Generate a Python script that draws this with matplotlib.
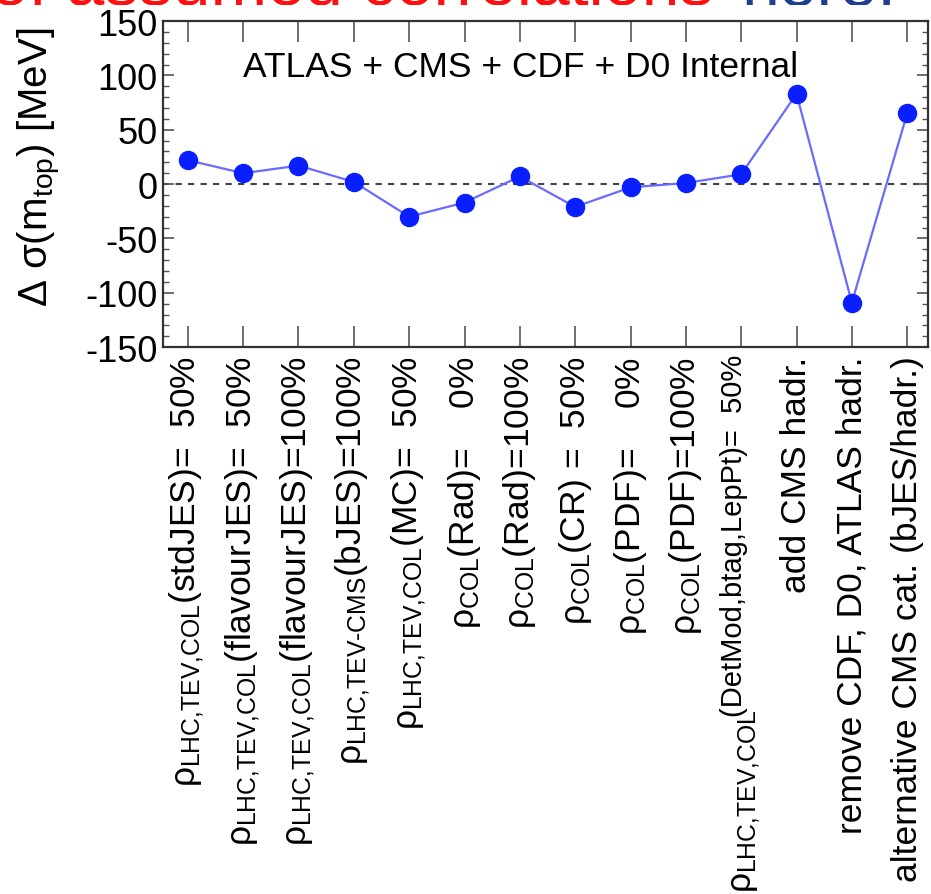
import matplotlib
matplotlib.use("Agg")
import matplotlib.pyplot as plt
import matplotlib.transforms as mtransforms
from matplotlib.ticker import MultipleLocator, FixedLocator

plt.rcParams['font.family'] = ['Liberation Sans', 'DejaVu Sans']
plt.rcParams['mathtext.fontset'] = 'custom'
plt.rcParams['mathtext.rm'] = 'Liberation Sans'
plt.rcParams['mathtext.it'] = 'Liberation Sans'
plt.rcParams['mathtext.bf'] = 'Liberation Sans:bold'
plt.rcParams['mathtext.sf'] = 'Liberation Sans'

categories = [
    r"$\rho_{\mathrm{LHC{,}TEV{,}COL}}$(stdJES)=  50%",
    r"$\rho_{\mathrm{LHC{,}TEV{,}COL}}$(flavourJES)=  50%",
    r"$\rho_{\mathrm{LHC{,}TEV{,}COL}}$(flavourJES)=100%",
    "$\\rho_{\\mathrm{LHC{,}TEV\u2010CMS}}$(bJES)=100%",
    r"$\rho_{\mathrm{LHC{,}TEV{,}COL}}$(MC)=  50%",
    r"$\rho_{\mathrm{COL}}$(Rad)=    0%",
    r"$\rho_{\mathrm{COL}}$(Rad)=100%",
    r"$\rho_{\mathrm{COL}}$(CR) =  50%",
    r"$\rho_{\mathrm{COL}}$(PDF)=    0%",
    r"$\rho_{\mathrm{COL}}$(PDF)=100%",
    "",  # drawn in two parts below
    "add CMS hadr.",
    "remove CDF, D0, ATLAS hadr.",
    "alternative CMS cat. (bJES/hadr.)",
]
detmod_rho = r"$\rho_{\mathrm{LHC{,}TEV{,}COL}}$"
detmod_sup = "(DetMod,btag,LepPt)=  50%"
delta_sigma = [22, 10, 17, 2, -30, -17, 7, -21, -3, 1, 9, 83, -109, 65]
yticks = [-150, -100, -50, 0, 50, 100, 150]

fig = plt.figure(figsize=(9.31, 8.95), dpi=100)
ax = fig.add_axes([0.175, 0.611, 0.822, 0.3644])

x = list(range(len(categories)))
ax.axhline(0, color='#444444', lw=1.5, ls=(0, (3, 3)), zorder=1)
ax.plot(x, delta_sigma, color='#6a6aff', lw=1.6, zorder=2)
ax.plot(x, delta_sigma, 'o', color='#0a1fff', ms=13, zorder=3)

ax.set_xlim(-0.45, 13.38)
ax.set_ylim(-150, 150)
ax.xaxis.set_major_locator(FixedLocator(x))
ax.set_xticklabels(categories, rotation=90, fontsize=25.5, ha='center', va='top')
ax.set_yticks(yticks)
ax.set_yticklabels([str(v) for v in yticks], fontsize=26)
ax.yaxis.set_minor_locator(MultipleLocator(10))
ax.tick_params(axis='x', which='major', direction='in', length=15, width=1.2,
               top=True, bottom=True, pad=6, color='#555555')
ax.tick_params(axis='y', which='major', direction='in', length=8, width=1.2,
               left=True, right=True, pad=4, color='#555555')
ax.tick_params(axis='y', which='minor', direction='in', length=4, width=1.0,
               left=True, right=True, color='#555555')
for s in ax.spines.values():
    s.set_linewidth(1.6)
    s.set_color('#333333')

# two-part label for category 10
blend = mtransforms.blended_transform_factory(ax.transData, ax.transAxes)
ax_h_px = 0.3644 * 895
def ypx(px):
    return (348.2 - px) / ax_h_px
ax.text(10 - 0.13, ypx(355), detmod_sup, transform=blend, rotation=90,
        fontsize=21, ha='center', va='top', clip_on=False)
ax.text(10 + 0.1, ypx(709), detmod_rho, transform=blend, rotation=90,
        fontsize=25.5, ha='center', va='top', clip_on=False)

ax.set_ylabel(r"$\Delta\ \sigma(\mathrm{m_{top}})$ [MeV]", fontsize=29)
ax.yaxis.set_label_coords(-0.13, 0.555)

ax.text(0.105, 0.86, "ATLAS + CMS + CDF + D0 Internal", transform=ax.transAxes,
        fontsize=25.5, ha='left', va='center')

# slide title, mostly cut off above the picture: only its bottom edge shows
strip = fig.add_axes([0, 1 - 6/895, 1, 6/895])
strip.set_axis_off()
strip.set_xlim(0, 931)
strip.set_ylim(0, 1)
strip.text(714, 0.1, "Impact of assumed correlations", color='#ff1010',
           fontsize=49, ha='right', va='baseline', clip_on=True)
strip.text(741, 0.1, "here.", color='#1c3f8f',
           fontsize=49, ha='left', va='baseline', clip_on=True)

fig.savefig("out.png", dpi=100)
